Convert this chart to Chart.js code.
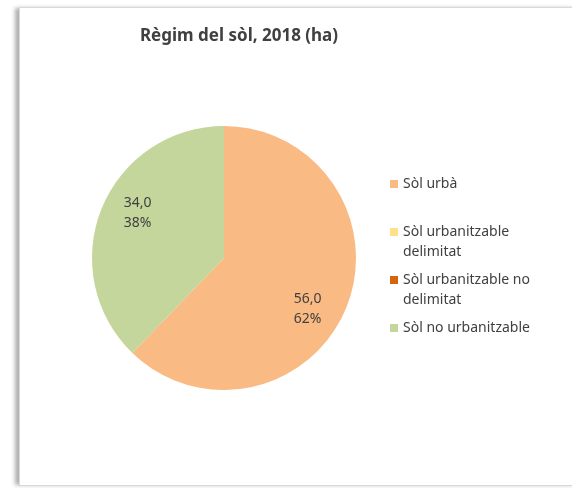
<!DOCTYPE html>
<html>
<head>
<meta charset="utf-8">
<script src="https://cdn.jsdelivr.net/npm/chart.js@4/dist/chart.umd.min.js"></script>
<style>
    body { margin: 0; background: #ffffff; }
    #frame {
        position: absolute;
        left: 19px; top: 7px;
        width: 570px; height: 477px;
        border: 1px solid #d9d9d9;
        box-shadow: -5px 0 4px -1px #b0b0b0;
        background: #ffffff;
    }
    #wrap { position: absolute; left: 0; top: 0; width: 572px; height: 488px; }
</style>
</head>
<body>
<div id="frame"></div>
<div id="wrap"><canvas id="chart" width="572" height="488"></canvas></div>
<script>
// Dades del gràfic
const categories = ['Sòl urbà', 'Sòl urbanitzable delimitat', 'Sòl urbanitzable no delimitat', 'Sòl no urbanitzable'];
const legendLines = [['Sòl urbà'], ['Sòl urbanitzable', 'delimitat'], ['Sòl urbanitzable no', 'delimitat'], ['Sòl no urbanitzable']];
const values = [56.0, 0, 0, 34.0];
const colors = ['#F9BA84', '#FFE08A', '#D6650E', '#C4D69B'];
const titleText = 'Règim del sòl, 2018 (ha)';

const FONT = '"Noto Sans", sans-serif';
const TEXT = '#404040';
// petit gir de l'etiqueta respecte al mig del sector (com fa Excel)
const labelShift = [0.16, 0, 0, 0.1];

// Etiquetes: valor i percentatge dins de cada sector
const sliceLabels = {
    id: 'sliceLabels',
    afterDatasetsDraw(chart) {
        const ctx = chart.ctx;
        const total = values.reduce((a, b) => a + b, 0);
        chart.getDatasetMeta(0).data.forEach((arc, i) => {
            if (!values[i]) return;
            const p = arc.getProps(['x', 'y', 'startAngle', 'endAngle', 'outerRadius']);
            const mid = (p.startAngle + p.endAngle) / 2 + labelShift[i];
            const r = p.outerRadius * 0.74;
            const x = p.x + Math.cos(mid) * r;
            const y = p.y + Math.sin(mid) * r;
            ctx.save();
            ctx.font = '14px ' + FONT;
            ctx.fillStyle = TEXT;
            ctx.textAlign = 'center';
            ctx.textBaseline = 'middle';
            ctx.fillText(values[i].toFixed(1).replace('.', ','), x, y - 10);
            ctx.fillText(Math.round(values[i] / total * 100) + '%', x, y + 10);
            ctx.restore();
        });
    }
};

// Llegenda a la dreta amb text en dues línies
const sideLegend = {
    id: 'sideLegend',
    afterDraw(chart) {
        const ctx = chart.ctx;
        ctx.save();
        ctx.font = '14px ' + FONT;
        ctx.textBaseline = 'middle';
        legendLines.forEach((lines, i) => {
            const y = 184 + i * 48;
            ctx.fillStyle = colors[i];
            ctx.fillRect(390, y - 4, 8, 8);
            ctx.fillStyle = TEXT;
            lines.forEach((t, j) => ctx.fillText(t, 403, y + j * 20));
        });
        // títol
        ctx.font = 'bold 17px ' + FONT;
        ctx.textAlign = 'center';
        ctx.fillText(titleText, 239, 36);
        ctx.restore();
    }
};

new Chart(document.getElementById('chart'), {
    type: 'pie',
    data: {
        labels: categories,
        datasets: [{
            data: values,
            backgroundColor: colors,
            borderWidth: 0,
            hoverOffset: 0
        }]
    },
    options: {
        responsive: false,
        animation: false,
        layout: { padding: { left: 92, right: 216, top: 126, bottom: 98 } },
        plugins: {
            legend: { display: false },
            title: { display: false },
            tooltip: { enabled: false }
        }
    },
    plugins: [sliceLabels, sideLegend]
});
</script>
</body>
</html>
